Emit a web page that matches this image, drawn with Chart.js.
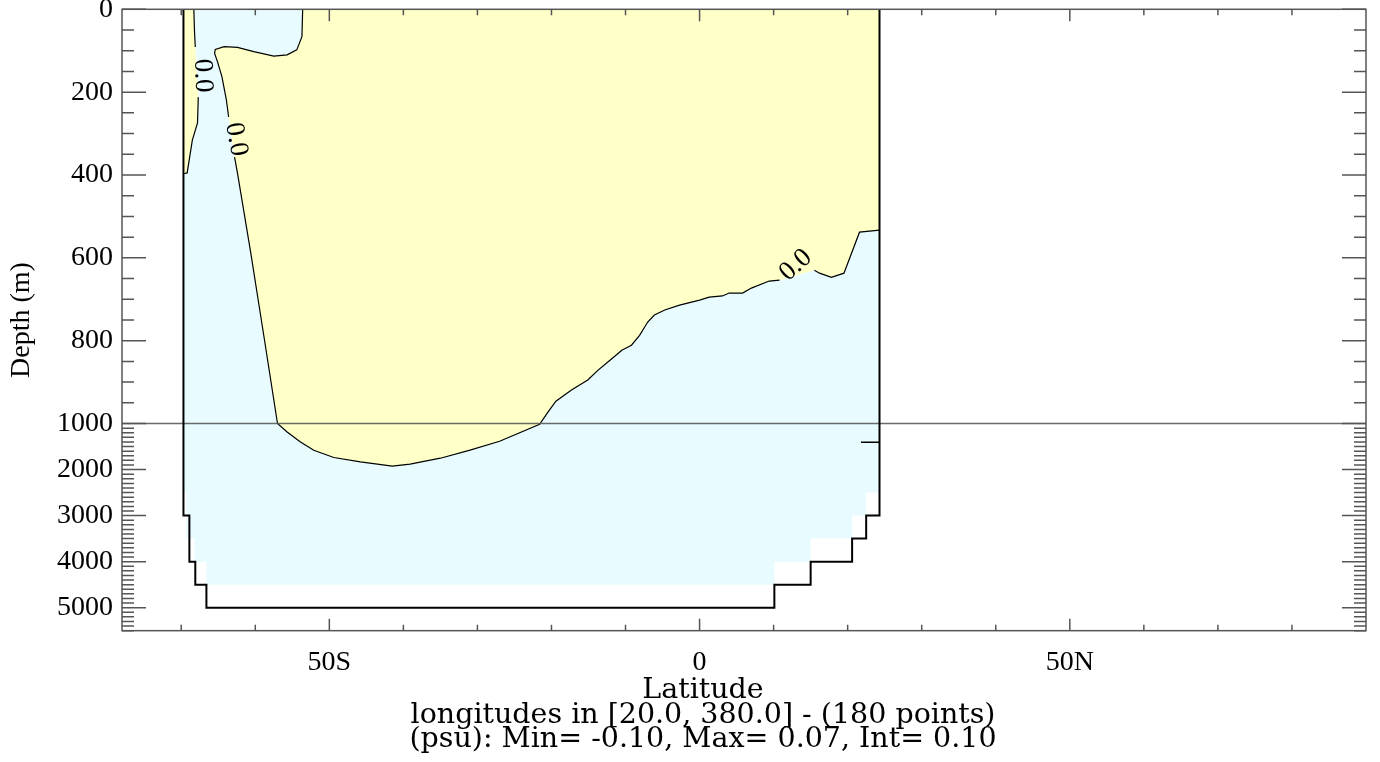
<!DOCTYPE html>
<html>
<head>
<meta charset="utf-8">
<title>Zonal section - salinity difference</title>
<script src="https://cdn.jsdelivr.net/npm/chart.js@4.4.1/dist/chart.umd.min.js"></script>
<style>
  html, body { margin: 0; padding: 0; background: #fff; }
  #wrap { width: 1380px; height: 762px; position: relative; }
</style>
</head>
<body>
<div id="wrap"><canvas id="section"></canvas></div>
<script>
// ---- axis ticks ----
const xTickValues = [-70, -60, -50, -40, -30, -20, -10, 0, 10, 20, 30, 40, 50, 60, 70, 80];
const xLabelValues = [-50, 0, 50];
const xLabelTexts = ["50S", "0", "50N"];
const yMajorTicks = [0, 200, 400, 600, 800, 1000, 2000, 3000, 4000, 5000];

// ---- ocean domain (cell fill) ----
const oceanLat   = [-69.7, -69.7, -69.3, -69.3, -68.2, -68.2, -66.6, -66.6, 10.1, 10.1, 15.0, 15.0, 20.6, 20.6, 22.5, 22.5, 24.3, 24.3];
const oceanDepth = [0, 2500, 2500, 3500, 3500, 4000, 4000, 4500, 4500, 4000, 4000, 3500, 3500, 3000, 3000, 2500, 2500, 0];

// ---- bottom topography outline ----
const bathyLat   = [-69.7, -69.7, -68.9, -68.9, -68.1, -68.1, -66.6, -66.6, 10.1, 10.1, 15.0, 15.0, 20.6, 20.6, 22.5, 22.5, 24.3, 24.3];
const bathyDepth = [0, 3000, 3000, 4000, 4000, 4500, 4500, 5000, 5000, 4500, 4500, 4000, 4000, 3500, 3500, 3000, 3000, 0];

// ---- 0.0 contours (null = gap for the label) ----
const westLat   = [-68.3, -68.2, -68.1, null, -67.7, -67.8, -68.5, -69.2, -69.7];
const westDepth = [0, 57, 91, null, 212, 274, 316, 395, 397];

const mainLat = [
  -53.6, -53.7, -54.4, -55.7, -57.5, -60.2, -62.4, -64.2, -65.4, -65.5,
  -65.1, -64.5, -63.9, -63.6, null, -62.8, -62.4, -60.6, -58.9, -57.0,
  -55.7, -53.9, -52.1, -49.4, -45.8, -41.5, -39.1, -35.0, -31.0, -27.0,
  -21.6, -20.5, -19.4, -17.3, -15.1, -13.7, -12.1, -10.5, -9.2, -8.1,
  -7.0, -6.1, -4.7, -2.7, 0.0, 1.3, 3.1, 4.0, 5.8, 7.0,
  9.4, 10.8, null, 15.5, 16.2, 17.8, 19.5, 21.6, 24.3
];
const mainDepth = [
  0, 66, 98, 110, 113, 102, 92, 90, 97, 106,
  127, 163, 219, 260, null, 357, 396, 589, 782, 1000,
  1182, 1399, 1579, 1738, 1833, 1926, 1883, 1753, 1579, 1384,
  1015, 973, 946, 919, 895, 871, 847, 823, 811, 787,
  755, 738, 726, 714, 702, 695, 692, 685, 685, 673,
  656, 654, null, 630, 637, 647, 637, 538, 533
];

const eastLat   = [21.8, 24.3];
const eastDepth = [1405, 1405];

// contour labels
const labelLat   = [-67.1, -62.6, 13.0];
const labelDepth = [160, 314, 618];
const labelAngle = [88, 80, -42];
const labelText  = ["0.0", "0.0", "0.0"];

const captionLines = [
  "Latitude",
  "longitudes in [20.0, 380.0] - (180 points)",
  "(psu): Min= -0.10, Max= 0.07, Int= 0.10"
];

const DEPTH_BREAK = 1000;
const SPLIT_FRACTION = 2 / 3;
const AXIS_COLOR = "#555";
const YELLOW = "rgb(255,255,200)";
const CYAN = "rgb(232,252,255)";

function toPoints(lats, depths) {
  return lats.map((v, i) => ({ x: v, y: v === null ? null : depths[i] }));
}
function closedShape(lats, depths, extraLat, extraDepth) {
  const pts = toPoints(lats, depths).filter(p => p.y !== null);
  extraLat.forEach((v, i) => pts.push({ x: v, y: extraDepth[i] }));
  return pts;
}

// two-part depth axis: 0-1000 m on the upper 2/3, 1000-5500 m below
class DepthScale extends Chart.LinearScale {
  splitPixel() {
    return this.top + (this.bottom - this.top) * SPLIT_FRACTION;
  }
  getPixelForValue(value) {
    const s = this.splitPixel();
    if (value <= DEPTH_BREAK) {
      return this.top + (value - this.min) / (DEPTH_BREAK - this.min) * (s - this.top);
    }
    return s + (value - DEPTH_BREAK) / (this.max - DEPTH_BREAK) * (this.bottom - s);
  }
  getValueForPixel(pixel) {
    const s = this.splitPixel();
    if (pixel <= s) {
      return this.min + (pixel - this.top) / (s - this.top) * (DEPTH_BREAK - this.min);
    }
    return DEPTH_BREAK + (pixel - s) / (this.bottom - s) * (this.max - DEPTH_BREAK);
  }
}
DepthScale.id = "depth";
DepthScale.defaults = {};
Chart.register(DepthScale);

const yMinorTicks = [];
for (let d = 0; d <= 1000; d += 50) yMinorTicks.push(d);
for (let d = 1100; d <= 5500; d += 100) yMinorTicks.push(d);
const yAllTicks = Array.from(new Set(yMinorTicks.concat(yMajorTicks))).sort((a, b) => a - b);

// IDL style frame: box, inward ticks on four sides, contour labels
const idlFrame = {
  id: "idlFrame",
  afterDatasetsDraw(chart) {
    const { ctx, chartArea: a, scales: { x, y } } = chart;
    ctx.save();
    ctx.strokeStyle = AXIS_COLOR;
    ctx.lineWidth = 1.5;
    ctx.beginPath();
    xTickValues.forEach(v => {
      const px = x.getPixelForValue(v);
      const len = xLabelValues.includes(v) ? 12 : 6;
      ctx.moveTo(px, a.bottom); ctx.lineTo(px, a.bottom - len);
      ctx.moveTo(px, a.top); ctx.lineTo(px, a.top + len);
    });
    yAllTicks.forEach(v => {
      const py = y.getPixelForValue(v);
      const len = yMajorTicks.includes(v) ? 24 : 12;
      ctx.moveTo(a.left, py); ctx.lineTo(a.left + len, py);
      ctx.moveTo(a.right, py); ctx.lineTo(a.right - len, py);
    });
    ctx.stroke();
    ctx.strokeRect(a.left, a.top, a.right - a.left, a.bottom - a.top);

    ctx.fillStyle = "#000";
    ctx.font = '27px "Liberation Serif"';
    ctx.textAlign = "center";
    ctx.textBaseline = "middle";
    labelText.forEach((t, i) => {
      ctx.save();
      ctx.translate(x.getPixelForValue(labelLat[i]), y.getPixelForValue(labelDepth[i]));
      ctx.rotate(labelAngle[i] * Math.PI / 180);
      ctx.fillText(t, 0, 0);
      ctx.restore();
    });
    ctx.restore();
  }
};

Chart.defaults.font.family = '"Liberation Serif", serif';
Chart.defaults.color = "#000";

const fillSet = (data, color, order) => ({
  data, order, fill: "shape", backgroundColor: color,
  borderColor: "rgba(0,0,0,0)", borderWidth: 0, pointRadius: 0, tension: 0
});
const lineSet = (data, color, width, order) => ({
  data, order, fill: false, borderColor: color, borderWidth: width,
  pointRadius: 0, tension: 0, spanGaps: false
});

new Chart(document.getElementById("section"), {
  type: "line",
  data: {
    datasets: [
      fillSet(toPoints(oceanLat, oceanDepth), CYAN, 10),
      fillSet(closedShape(westLat, westDepth, [-69.7], [0]), YELLOW, 9),
      fillSet(closedShape(mainLat, mainDepth, [24.3], [0]), YELLOW, 9),
      lineSet(toPoints(mainLat, mainDepth), "#000", 1.2, 5),
      lineSet(toPoints(westLat, westDepth), "#000", 1.2, 5),
      lineSet(toPoints(eastLat, eastDepth), "#000", 1.5, 5),
      lineSet([{ x: -78, y: DEPTH_BREAK }, { x: 90, y: DEPTH_BREAK }], "rgba(90,90,90,0.9)", 1.6, 4),
      lineSet(toPoints(bathyLat, bathyDepth), "#000", 2, 3)
    ]
  },
  options: {
    responsive: true,
    maintainAspectRatio: false,
    animation: false,
    devicePixelRatio: 1,
    events: [],
    layout: { padding: { left: 0, right: -26, top: 9.3, bottom: 9.8 } },
    plugins: {
      legend: { display: false },
      tooltip: { enabled: false },
      title: {
        display: true,
        position: "bottom",
        text: captionLines,
        color: "#000",
        padding: 0,
        font: { family: '"DejaVu Serif", serif', size: 28.5, weight: "normal", lineHeight: 0.86 }
      }
    },
    scales: {
      x: {
        type: "linear",
        min: -78,
        max: 90,
        grid: { display: false, drawTicks: false },
        border: { display: false },
        ticks: {
          autoSkip: false,
          maxRotation: 0,
          padding: 15,
          font: { size: 28 },
          callback: v => {
            const i = xLabelValues.indexOf(v);
            return i >= 0 ? xLabelTexts[i] : "";
          }
        },
        afterBuildTicks: s => { s.ticks = xTickValues.map(v => ({ value: v })); },
        afterFit: s => { s.height = 48; s.paddingLeft = 0; s.paddingRight = 0; }
      },
      y: {
        type: "depth",
        min: 0,
        max: 5500,
        grid: { display: false, drawTicks: false },
        border: { display: false },
        title: { display: true, text: "Depth (m)", font: { size: 28 }, padding: { top: 5, bottom: 0 } },
        ticks: {
          autoSkip: false,
          padding: 9,
          font: { size: 28 },
          callback: v => (yMajorTicks.includes(v) ? String(v) : "")
        },
        afterBuildTicks: s => { s.ticks = yAllTicks.map(v => ({ value: v })); },
        afterFit: s => { s.width = 122; s.paddingTop = 0; s.paddingBottom = 0; }
      },
      y2: {
        type: "linear",
        position: "right",
        min: 0,
        max: 1,
        grid: { display: false, drawTicks: false },
        border: { display: false },
        ticks: { display: false },
        afterFit: s => { s.width = 40; s.paddingTop = 0; s.paddingBottom = 0; }
      }
    }
  },
  plugins: [idlFrame]
});
</script>
</body>
</html>
